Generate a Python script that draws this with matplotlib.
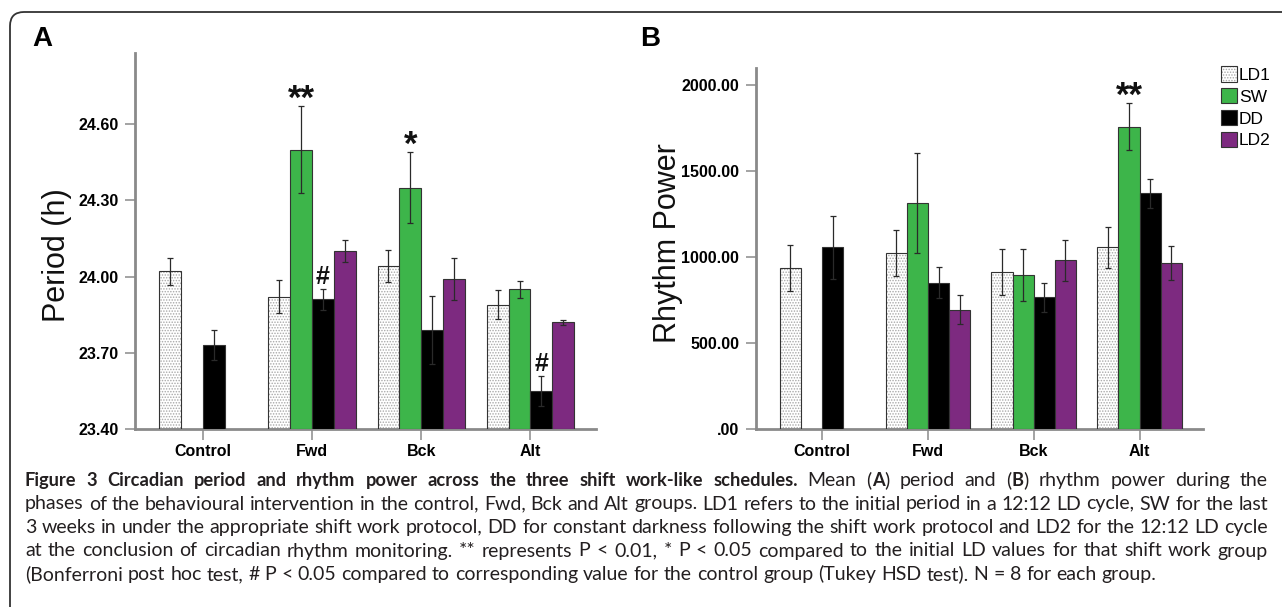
import numpy as np
import matplotlib
matplotlib.use('Agg')
import matplotlib.pyplot as plt
from matplotlib.patches import FancyBboxPatch
from matplotlib.ticker import FixedLocator, FuncFormatter
from matplotlib.legend_handler import HandlerTuple

nan = np.nan

# ---------------- data ----------------
groups = ['Control', 'Fwd', 'Bck', 'Alt']
phases = ['LD1', 'SW', 'DD', 'LD2']
phase_colors = ['white', '#3DB54A', '#000000', '#7D2A80']

period_LD1 = [24.02, 23.92, 24.04, 23.89]
period_SW = [nan, 24.50, 24.35, 23.95]
period_DD = [23.73, 23.91, 23.79, 23.55]
period_LD2 = [nan, 24.10, 23.99, 23.82]
period_err_LD1 = [0.055, 0.065, 0.063, 0.057]
period_err_SW = [nan, 0.17, 0.14, 0.033]
period_err_DD = [0.06, 0.043, 0.133, 0.06]
period_err_LD2 = [nan, 0.043, 0.083, 0.01]

power_LD1 = [936, 1023, 913, 1056]
power_SW = [nan, 1313, 895, 1759]
power_DD = [1056, 852, 765, 1371]
power_LD2 = [nan, 695, 981, 967]
power_err_LD1 = [136, 132, 134, 117]
power_err_SW = [nan, 290, 152, 136]
power_err_DD = [185, 88, 85, 83]
power_err_LD2 = [nan, 82, 118, 99]

period_ticks = [23.40, 23.70, 24.00, 24.30, 24.60]
power_ticks = [0, 500, 1000, 1500, 2000]

period_marks = [('Fwd', 'SW', '**'), ('Bck', 'SW', '*'), ('Fwd', 'DD', '#'), ('Alt', 'DD', '#')]
power_marks = [('Alt', 'SW', '**')]

caption_lines = [
    [("Figure 3 Circadian period and rhythm power across the three shift work-like schedules.", True),
     (" Mean (", False), ("A", True), (") period and (", False), ("B", True),
     (") rhythm power during the", False)],
    [("phases of the behavioural intervention in the control, Fwd, Bck and Alt groups. LD1 refers to the initial period in a 12:12 LD cycle, SW for the last", False)],
    [("3 weeks in under the appropriate shift work protocol, DD for constant darkness following the shift work protocol and LD2 for the 12:12 LD cycle", False)],
    [("at the conclusion of circadian rhythm monitoring. ** represents P < 0.01, * P < 0.05 compared to the initial LD values for that shift work group", False)],
    [("(Bonferroni post hoc test, # P < 0.05 compared to corresponding value for the control group (Tukey HSD test). N = 8 for each group.", False)],
]

# ---------------- figure ----------------
W, H = 1282, 607
plt.rcParams['hatch.linewidth'] = 0.7
fig = plt.figure(figsize=(W / 100, H / 100), dpi=100)

TICKFONT = 'Liberation Sans'
BAR_W = 0.2


def fig_rect(l, t, r, b):
    return [l / W, 1 - b / H, (r - l) / W, (b - t) / H]


axA = fig.add_axes(fig_rect(135, 53, 596, 429))
axB = fig.add_axes(fig_rect(756, 68, 1203, 429))


def draw_panel(ax, series, errs, base, ylim, xlim, ticks, fmt, marks):
    x0 = np.arange(len(groups))
    handles = []
    centers = {}
    for i, (ph, col) in enumerate(zip(phases, phase_colors)):
        vals = np.array(series[i], dtype=float)
        err = np.array(errs[i], dtype=float)
        m = ~np.isnan(vals)
        x = x0 + (i - 1.5) * BAR_W
        centers[ph] = x
        if ph == 'LD1':
            b1 = ax.bar(x[m], vals[m] - base, BAR_W, bottom=base, color='white',
                        edgecolor='#a8a8a8', hatch='......', linewidth=0, zorder=2)
            b2 = ax.bar(x[m], vals[m] - base, BAR_W, bottom=base, fill=False,
                        edgecolor='#333333', linewidth=0.8, zorder=3)
            handles.append((b1.patches[0], b2.patches[0]))
        else:
            b = ax.bar(x[m], vals[m] - base, BAR_W, bottom=base, color=col,
                       edgecolor='#333333', linewidth=0.8, zorder=3)
            handles.append(b.patches[0])
        ax.errorbar(x[m], vals[m], yerr=err[m], fmt='none', ecolor='#2a2a2a',
                    elinewidth=0.9, capsize=2, capthick=0.9, zorder=4)
    ax.set_xlim(*xlim)
    ax.set_ylim(*ylim)
    ax.set_xticks(x0)
    ax.set_xticklabels(groups)
    ax.yaxis.set_major_locator(FixedLocator(ticks))
    ax.yaxis.set_major_formatter(FuncFormatter(fmt))
    for s in ['top', 'right']:
        ax.spines[s].set_visible(False)
    for s in ['left', 'bottom']:
        ax.spines[s].set_color('#8a8a8a')
        ax.spines[s].set_linewidth(2.0)
    ax.tick_params(axis='y', direction='out', length=7, width=1.1, color='#8a8a8a', pad=5)
    ax.tick_params(axis='x', direction='out', length=8, width=1.1, color='#8a8a8a', pad=3)
    for lab in ax.get_xticklabels() + ax.get_yticklabels():
        lab.set_fontfamily(TICKFONT)
        lab.set_fontweight('bold')
        lab.set_fontsize(11.5)
    ax.set_facecolor('none')
    # significance marks
    for g, ph, sym in marks:
        gi = groups.index(g)
        pi = phases.index(ph)
        xv = centers[ph][gi]
        top = series[pi][gi] + errs[pi][gi]
        if '*' in sym:
            ax.annotate(sym, (xv, top), xytext=(0, -2), textcoords='offset points',
                        ha='center', va='baseline', fontsize=25, fontweight='bold',
                        family=TICKFONT, color='#111111')
        else:
            ax.annotate(sym, (xv, top), xytext=(0, 3), textcoords='offset points',
                        ha='center', va='baseline', fontsize=18, fontweight='bold',
                        family=TICKFONT, color='#111111')
    return handles


fmtA = lambda v, p: f"{v:.2f}"


def fmtB(v, p):
    s = f"{v:.2f}"
    return s[1:] if s.startswith('0') else s


draw_panel(axA, [period_LD1, period_SW, period_DD, period_LD2],
           [period_err_LD1, period_err_SW, period_err_DD, period_err_LD2],
           23.40, (23.40, 24.88), (-0.62, 3.6), period_ticks, fmtA, period_marks)
hB = draw_panel(axB, [power_LD1, power_SW, power_DD, power_LD2],
                [power_err_LD1, power_err_SW, power_err_DD, power_err_LD2],
                0, (0, 2100), (-0.625, 3.6), power_ticks, fmtB, power_marks)

leg = axB.legend(hB, phases, loc='upper left', bbox_to_anchor=(1221 / W, 1 - 66 / H),
                 bbox_transform=fig.transFigure, frameon=False,
                 handler_map={tuple: HandlerTuple(ndivide=1, pad=0)},
                 handlelength=0.9, handleheight=1.0, handletextpad=0.12,
                 labelspacing=0.3, borderpad=0, borderaxespad=0,
                 prop={'family': TICKFONT, 'size': 12.5})

# axis titles and panel letters
fig.text(57 / W, 1 - 255 / H, 'Period (h)', rotation=90, ha='center', va='center',
         fontsize=22, family=TICKFONT, color='#111111')
fig.text(668 / W, 1 - 243 / H, 'Rhythm Power', rotation=90, ha='center', va='center',
         fontsize=22, family=TICKFONT, color='#111111')
fig.text(32 / W, 1 - 39 / H, 'A', ha='left', va='center', fontsize=20,
         fontweight='bold', family=TICKFONT)
fig.text(640 / W, 1 - 39 / H, 'B', ha='left', va='center', fontsize=20,
         fontweight='bold', family=TICKFONT)

# border with rounded corner
box = FancyBboxPatch((10, -30), 1320, H - 12 + 30, boxstyle='round,pad=0,rounding_size=14',
                     transform=None, fill=False, edgecolor='#333333', linewidth=1.3)
fig.add_artist(box)

# caption, justified
CAPFONT = 'Lato'
renderer = fig.canvas.get_renderer()
bold_scale = 1.0


def make_text(s, bold, fs):
    return fig.text(0, 0, s, fontsize=fs * (bold_scale if bold else 1.0), family=CAPFONT,
                    weight='bold' if bold else 'normal', ha='left', va='baseline',
                    transform=None, color='#231f20')


def split_words(runs):
    words = [[]]
    for text, bold in runs:
        parts = text.split(' ')
        for i, p in enumerate(parts):
            if i > 0:
                words.append([])
            if p:
                words[-1].append((p, bold))
    return [w for w in words if w]


def measure(s, bold, fs):
    t = make_text(s, bold, fs)
    w = t.get_window_extent(renderer).width
    t.remove()
    return w


def natural_width(words, fs):
    sp = measure('x x', False, fs) - measure('xx', False, fs)
    return sum(sum(measure(c, b, fs) for c, b in wd) for wd in words) + sp * (len(words) - 1)


# fit font size so the last (unjustified) line ends where the reference does
probe = 12.0
cap_fs = probe * (1150 - 25) / natural_width(split_words(caption_lines[-1]), probe)
# the bold title run is set in a narrower face in the reference: fit its width
title_words = split_words([caption_lines[0][0]])
bold_scale = (737 - 25) / natural_width(title_words, cap_fs)

x_left, x_right = 25, 1268
for li, runs in enumerate(caption_lines):
    y = H - (486 + 23.5 * li)
    words = split_words(runs)
    pieces = []
    for wd in words:
        items = []
        for c, b in wd:
            items.append((c, b, measure(c, b, cap_fs)))
        pieces.append(items)
    widths = [sum(it[2] for it in p) for p in pieces]
    space = measure('x x', False, cap_fs) - measure('xx', False, cap_fs)
    if li < len(caption_lines) - 1:
        gap = (x_right - x_left - sum(widths)) / (len(pieces) - 1)
    else:
        gap = space
    x = x_left
    for p, wsum in zip(pieces, widths):
        xx = x
        for c, b, w in p:
            t = make_text(c, b, cap_fs)
            t.set_position((xx, y))
            xx += w
        x += wsum + gap

fig.savefig('out.png', dpi=100)
